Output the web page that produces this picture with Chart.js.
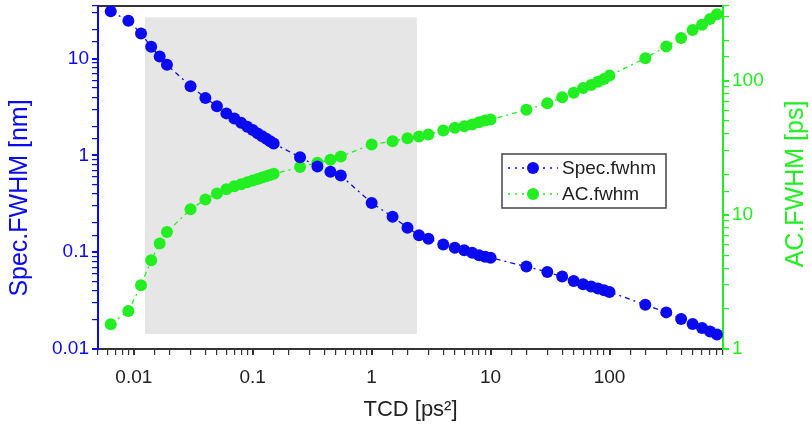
<!DOCTYPE html>
<html>
<head>
<meta charset="utf-8">
<script src="https://cdn.jsdelivr.net/npm/chart.js@4.4.0/dist/chart.umd.min.js"></script>
<style>
  body { margin: 0; background: #fff; }
  #wrap { width: 812px; height: 432px; }
</style>
</head>
<body>
<div id="wrap"><canvas id="c" width="812" height="432"></canvas></div>
<script>
// TCD values [ps^2] shared by both series
const tcd = [0.0064, 0.009, 0.0115, 0.014, 0.0165, 0.019, 0.03, 0.04, 0.05, 0.06,
  0.07, 0.08, 0.09, 0.1, 0.11, 0.12, 0.13, 0.14, 0.15,
  0.25, 0.35, 0.45, 0.55,
  1, 1.5, 2, 2.5, 3, 4, 5, 6, 7, 8, 9, 10,
  20, 30, 40, 50, 60, 70, 80, 90, 100,
  200, 300, 400, 500, 600, 700, 800];

// Spec.fwhm [nm] (left axis)
const specFwhm = [30.8, 24.7, 18.2, 13.3, 10.5, 8.65, 5.2, 3.93, 3.23, 2.72,
  2.41, 2.17, 1.98, 1.83, 1.69, 1.58, 1.49, 1.40, 1.33,
  0.96, 0.77, 0.68, 0.62,
  0.323, 0.232, 0.179, 0.15, 0.138, 0.12, 0.111, 0.105, 0.0988, 0.0933, 0.0899, 0.0878,
  0.071, 0.0624, 0.056, 0.0505, 0.0467, 0.0442, 0.0422, 0.0405, 0.0389,
  0.0286, 0.0239, 0.0204, 0.0181, 0.0165, 0.0152, 0.0141];

// AC.fwhm [ps] (right axis)
const acFwhm = [1.53, 1.92, 2.99, 4.59, 6.11, 7.45, 11.0, 13.0, 14.4, 15.5,
  16.3, 16.9, 17.5, 18.0, 18.5, 19.0, 19.4, 19.8, 20.2,
  22.7, 24.4, 25.7, 27.2,
  33.4, 35.4, 37.2, 38.3, 39.7, 42.5, 44.5, 45.7, 47.1, 49.0, 50.4, 51.3,
  60.6, 67.8, 75.1, 81.4, 88.3, 92.9, 98.3, 103, 109,
  147, 180, 208, 238, 261, 288, 313];

const seriesNames = ["Spec.fwhm", "AC.fwhm"];
const xRange = [0.005, 900];
const specRange = [0.01, 35];
const acRange = [1, 360];
// shaded region, in data units (x: TCD, y: left axis)
const shadeX = [0.0124, 2.4];
const shadeY = [0.0143, 26.7];

const BLUE = "#0a0af0";
const GREEN = "#22ee22";
const FONT = "'Liberation Sans', Arial, sans-serif";

function pow10Label(v) {
  const l = Math.log10(v);
  if (Math.abs(l - Math.round(l)) < 1e-9) return String(Number(v.toPrecision(3)));
  return "";
}

const shadePlugin = {
  id: "shade",
  beforeDatasetsDraw(chart) {
    const { ctx, scales } = chart;
    const x0 = scales.x.getPixelForValue(shadeX[0]);
    const x1 = scales.x.getPixelForValue(shadeX[1]);
    const y0 = scales.y.getPixelForValue(shadeY[1]);
    const y1 = scales.y.getPixelForValue(shadeY[0]);
    ctx.save();
    ctx.fillStyle = "#e6e6e6";
    ctx.fillRect(x0, y0, x1 - x0, y1 - y0);
    ctx.restore();
  }
};

function vText(ctx, txt, x, y, color, size) {
  ctx.save();
  ctx.textAlign = "center";
  ctx.textBaseline = "middle";
  ctx.font = size + "px " + FONT;
  ctx.fillStyle = color;
  ctx.translate(x, y);
  ctx.rotate(-Math.PI / 2);
  ctx.fillText(txt, 0, 0);
  ctx.restore();
}

const textPlugin = {
  id: "texts",
  afterDraw(chart) {
    const { ctx, chartArea } = chart;
    ctx.save();
    ctx.textAlign = "center";
    ctx.textBaseline = "middle";
    ctx.font = "22px " + FONT;
    ctx.fillStyle = "#222";
    ctx.fillText("TCD [ps²]", (chartArea.left + chartArea.right) / 2, 410);
    ctx.restore();

    vText(ctx, "Spec.FWHM [nm]", 20, 198, BLUE, 25);
    vText(ctx, "AC.FWHM [ps]", 796, 184, GREEN, 25);

    // legend box
    const bx = 502, by = 154, bw = 164, bh = 54;
    ctx.save();
    ctx.fillStyle = "#fff";
    ctx.fillRect(bx, by, bw, bh);
    ctx.strokeStyle = "#444";
    ctx.lineWidth = 1.5;
    ctx.strokeRect(bx, by, bw, bh);
    const cols = [BLUE, GREEN];
    ctx.font = "19px " + FONT;
    ctx.textBaseline = "middle";
    seriesNames.forEach((name, i) => {
      const cy = by + 14 + i * 26;
      ctx.strokeStyle = cols[i];
      ctx.lineWidth = 1.5;
      ctx.setLineDash([2, 5]);
      ctx.beginPath();
      ctx.moveTo(bx + 6, cy);
      ctx.lineTo(bx + 56, cy);
      ctx.stroke();
      ctx.setLineDash([]);
      ctx.fillStyle = cols[i];
      ctx.beginPath();
      ctx.arc(bx + 31, cy, 6, 0, Math.PI * 2);
      ctx.fill();
      ctx.fillStyle = "#222";
      ctx.fillText(name, bx + 60, cy + 1);
    });
    ctx.restore();
  }
};

function makeSet(label, ys, color, axis) {
  return {
    label: label,
    data: tcd.map((x, i) => ({ x: x, y: ys[i] })),
    yAxisID: axis,
    borderColor: color,
    backgroundColor: color,
    borderWidth: 1.3,
    borderDash: [5, 4, 2, 4],
    pointRadius: 6,
    pointBorderWidth: 0,
    pointBackgroundColor: color,
    showLine: true,
    tension: 0
  };
}

const axisTicks = (color) => ({
  color: color,
  font: { family: FONT, size: 19 },
  autoSkip: false,
  maxRotation: 0,
  callback: (v) => pow10Label(v)
});

// drop the label overhang padding so the plot area sits where the axes say
const noPadV = (w) => (s) => { s.width = w; s.paddingTop = 0; s.paddingBottom = 0; };
const noPadH = (h) => (s) => { s.height = h; s.paddingLeft = 0; s.paddingRight = 0; };

new Chart(document.getElementById("c"), {
  type: "line",
  data: {
    datasets: [
      makeSet(seriesNames[0], specFwhm, BLUE, "y"),
      makeSet(seriesNames[1], acFwhm, GREEN, "y2")
    ]
  },
  options: {
    responsive: false,
    animation: false,
    layout: { padding: { top: 5, left: 0, right: 0, bottom: 0 } },
    plugins: { legend: { display: false }, tooltip: { enabled: false } },
    scales: {
      x: {
        type: "logarithmic",
        position: "bottom",
        min: xRange[0], max: xRange[1],
        grid: { drawOnChartArea: false, tickLength: 6, color: "#333",
          lineWidth: (c) => (pow10Label(c.tick.value) ? 2 : 1.2) },
        border: { color: "#333", width: 2 },
        ticks: Object.assign(axisTicks("#222"), { padding: 11 }),
        afterFit: noPadH(83)
      },
      xt: {
        type: "logarithmic",
        position: "top",
        min: xRange[0], max: xRange[1],
        grid: { display: false },
        border: { color: "#333", width: 2 },
        ticks: { display: false },
        afterFit: noPadH(0)
      },
      y: {
        type: "logarithmic",
        position: "left",
        min: specRange[0], max: specRange[1],
        grid: { drawOnChartArea: false, tickLength: 6, color: BLUE,
          lineWidth: (c) => (pow10Label(c.tick.value) ? 2 : 1.2) },
        border: { color: BLUE, width: 2 },
        ticks: Object.assign(axisTicks(BLUE), { padding: 3 }),
        afterFit: noPadV(98)
      },
      y2: {
        type: "logarithmic",
        position: "right",
        min: acRange[0], max: acRange[1],
        grid: { drawOnChartArea: false, tickLength: 6, color: GREEN,
          lineWidth: (c) => (pow10Label(c.tick.value) ? 2 : 1.2) },
        border: { color: GREEN, width: 2 },
        ticks: Object.assign(axisTicks(GREEN), { padding: 3 }),
        afterFit: noPadV(89)
      }
    }
  },
  plugins: [shadePlugin, textPlugin]
});
</script>
</body>
</html>
